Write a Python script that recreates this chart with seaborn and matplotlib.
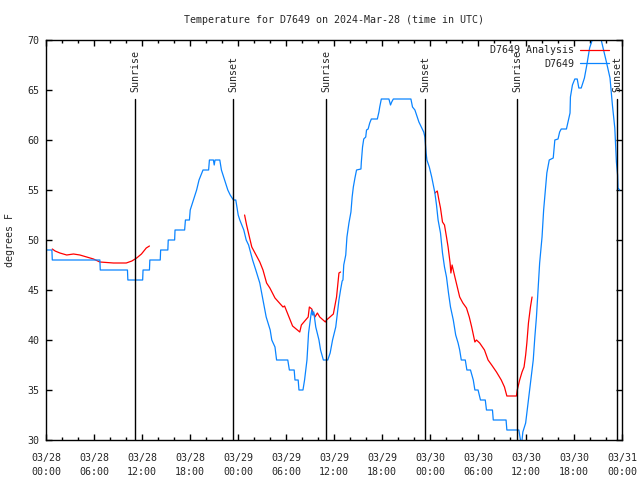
import matplotlib

matplotlib.use("Agg")
import matplotlib.dates as mdates
import matplotlib.pyplot as plt
import pandas as pd
import seaborn as sns


START = pd.Timestamp("2024-03-28 00:00")

# station readings, hours since 03/28 00:00 UTC
BLUE_HOURS = [
    0.0, 0.7, 0.75, 6.7, 6.75, 10.15, 10.2, 12.05, 12.1, 12.9, 12.95, 14.25, 14.3,
    15.2, 15.25, 16.05, 16.1, 17.3, 17.4, 17.9, 18.0, 18.4, 18.8, 19.1, 19.6, 20.3,
    20.4, 20.9, 21.0, 21.1, 21.7, 21.9, 22.3, 22.7, 23.0, 23.4, 23.7, 24.0, 24.2,
    24.7, 25.0, 25.3, 25.8, 26.2, 26.7, 27.1, 27.5, 28.0, 28.2, 28.6, 28.8, 30.2,
    30.4, 31.0, 31.1, 31.5, 31.6, 32.1, 32.3, 32.6, 32.8, 33.1, 33.2, 33.3, 33.45,
    33.7, 34.1, 34.3, 34.65, 35.2, 35.5, 35.8, 36.2, 36.6, 36.8, 37.0, 37.1, 37.2,
    37.45, 37.6, 37.85, 38.1, 38.25, 38.4, 38.6, 38.8, 39.35, 39.4, 39.55, 39.7,
    39.95, 40.05, 40.25, 40.45, 40.65, 41.4, 41.6, 41.7, 41.9, 42.85, 43.05, 43.2,
    43.4, 45.6, 45.8, 46.1, 46.4, 46.6, 46.9, 47.2, 47.35, 47.5, 47.6, 47.9, 48.2,
    48.4, 48.6, 48.8, 49.0, 49.3, 49.55, 49.8, 50.05, 50.3, 50.55, 50.9, 51.2, 51.5,
    51.7, 51.9, 52.4, 52.6, 53.05, 53.4, 53.6, 54.0, 54.3, 54.9, 55.05, 55.8, 55.9,
    57.5, 57.6, 59.1, 59.3, 59.45, 59.6, 59.95, 60.25, 60.55, 60.9, 61.1, 61.3,
    61.5, 61.7, 62.0, 62.2, 62.5, 62.6, 62.9, 63.4, 63.6, 64.0, 64.2, 64.4, 65.05,
    65.25, 65.5, 65.55, 65.8, 66.1, 66.4, 66.6, 66.9, 67.3, 67.6, 67.95, 68.4, 68.8,
    69.2, 69.4, 69.7, 70.05, 70.5, 70.8, 71.1, 71.3, 71.45, 71.5, 71.7,
]
BLUE_TEMPS = [
    49, 49, 48, 48, 47, 47, 46, 46, 47, 47, 48, 48, 49,
    49, 50, 50, 51, 51, 52, 52, 53, 54, 55, 56, 57, 57,
    58, 58, 57.5, 58, 58, 57, 56, 55, 54.5, 54, 54, 52.5, 52,
    51, 50, 49.5, 48, 47, 45.7, 44, 42.3, 41, 40, 39.3, 38, 38,
    37, 37, 36, 36, 35, 35, 36, 38, 40.7, 42.5, 43, 42.5, 42.8,
    41.3, 40, 39, 38, 38, 38.7, 40, 41.3, 44, 45, 45.9, 46, 47.5,
    48.5, 50.3, 51.7, 52.8, 54.3, 55.3, 56.2, 57, 57.1, 57.8, 59.3, 60.1,
    60.3, 61, 61.1, 61.7, 62.1, 62.1, 62.8, 63.3, 64.1, 64.1, 63.5, 63.8,
    64.1, 64.1, 63.3, 63, 62.3, 61.8, 61.3, 60.8, 60.3, 58.7, 58, 57.3, 56.3,
    55.5, 54.7, 53.5, 52, 50.7, 48.7, 47.3, 46.3, 44.7, 43.3, 42, 40.5, 39.7,
    39, 38, 38, 37, 37, 36, 35, 35, 34, 34, 33, 33, 32,
    32, 31, 31, 30, 29.6, 30.8, 31.7, 33.7, 35.7, 38, 40.3, 42.3,
    45, 47.7, 50.3, 53, 55.7, 56.7, 58, 58.2, 60, 60.1, 60.8, 61.1, 61.1,
    61.8, 62.7, 64.3, 65.5, 66.1, 66.1, 65.2, 65.2, 66.2, 67.5, 69.2, 70.3, 71,
    70.8, 70, 69, 67.8, 66.2, 63.5, 61.2, 57.8, 56.5, 55.2, 55,
]

# analysis, three separate runs
RED1_HOURS = [0.75, 1.1, 1.7, 2.55, 3.4, 4.2, 5.05, 5.9, 6.7, 8.4, 10.0, 10.7, 11.3, 11.9, 12.5, 12.9]
RED1_TEMPS = [49.1, 48.9, 48.7, 48.5, 48.6, 48.5, 48.3, 48.1, 47.8, 47.7, 47.7, 47.9, 48.2, 48.6, 49.2, 49.4]

RED2_HOURS = [24.8, 25.05, 25.4, 25.7, 26.1, 26.7, 27.1, 27.55, 27.96, 28.6, 29.6, 29.8, 30.0,
              30.8, 31.7, 31.9, 32.75, 32.9, 33.2, 33.6, 33.9, 34.2, 34.9, 35.05, 35.9, 36.3,
              36.6, 36.8]
RED2_TEMPS = [52.5, 51.5, 50.3, 49.3, 48.7, 47.8, 47, 45.7, 45.2, 44.2, 43.3, 43.4, 43,
              41.4, 40.8, 41.5, 42.3, 43.3, 43.1, 42.3, 42.7, 42.3, 41.8, 42, 42.6, 44.3,
              46.7, 46.8]

RED3_HOURS = [48.6, 48.9, 49.1, 49.3, 49.55, 49.8, 50.05, 50.25, 50.5, 50.6, 50.75, 51.1, 51.4,
              51.7, 52.1, 52.55, 52.9, 53.2, 53.6, 53.8, 54.2, 54.8, 55.25, 55.7, 56.3, 56.9,
              57.3, 57.6, 58.8, 58.9, 59.2, 59.5, 59.75, 59.95, 60.1, 60.3, 60.55, 60.75]
RED3_TEMPS = [54.7, 54.9, 54, 53.2, 51.8, 51.5, 50.3, 49.3, 47.7, 46.7, 47.5, 46.3, 45.3,
              44.3, 43.7, 43.2, 42.3, 41.3, 39.8, 40, 39.7, 39, 38, 37.5, 36.8, 36,
              35.3, 34.4, 34.4, 35, 36, 36.8, 37.3, 38.5, 39.7, 41.7, 43.3, 44.3]

SUN_HOURS = [11.1, 23.35, 35.0, 47.4, 58.9, 71.4]
SUN_LABELS = ["Sunrise", "Sunset", "Sunrise", "Sunset", "Sunrise", "Sunset"]


def to_frame(hours, temps):
    return pd.DataFrame({
        "time": START + pd.to_timedelta(hours, unit="h"),
        "temp": temps,
    })


def main():
    fig = plt.figure(figsize=(6.4, 4.8), dpi=100)
    ax = fig.add_axes([46.3 / 640, 40 / 480, 575.7 / 640, 400 / 480])

    red_segments = [(RED1_HOURS, RED1_TEMPS), (RED2_HOURS, RED2_TEMPS), (RED3_HOURS, RED3_TEMPS)]
    for i, (hh, tt) in enumerate(red_segments):
        sns.lineplot(data=to_frame(hh, tt), x="time", y="temp", color="#ff0000",
                     linewidth=0.9, label="D7649 Analysis" if i == 0 else None,
                     ax=ax, legend=False)
    sns.lineplot(data=to_frame(BLUE_HOURS, BLUE_TEMPS), x="time", y="temp",
                 color="#0a84ff", linewidth=0.9, label="D7649", ax=ax, legend=False)

    top = 64.1
    for h, lab in zip(SUN_HOURS, SUN_LABELS):
        t = START + pd.Timedelta(hours=h)
        ax.axvline(t, ymin=0, ymax=(top - 30) / 40, color="black", linewidth=1.0)
        ax.text(t, 64.8, lab, rotation=90, ha="center", va="bottom", fontsize=7.2)

    ax.set_xlim(START, START + pd.Timedelta(hours=72))
    ax.set_ylim(30, 70)
    ax.set_yticks(range(30, 71, 5))
    ax.xaxis.set_major_locator(mdates.HourLocator(byhour=[0, 6, 12, 18]))
    ax.xaxis.set_minor_locator(mdates.HourLocator(interval=2))
    ax.xaxis.set_major_formatter(mdates.DateFormatter("%m/%d\n%H:%M"))

    ax.tick_params(which="both", direction="in", top=True, right=True, labelsize=7.2,
                   width=1.0, color="black")
    ax.tick_params(which="major", length=4.5)
    ax.tick_params(which="minor", length=2.2)
    ax.tick_params(axis="x", which="major", pad=9)
    ax.tick_params(axis="y", which="major", pad=5)
    for lbl in ax.get_xticklabels():
        lbl.set_linespacing(1.55)
    for s in ax.spines.values():
        s.set_color("black")
        s.set_linewidth(1.0)

    ax.set_xlabel("")
    ax.set_ylabel("degrees F", fontsize=7.2)
    ax.yaxis.set_label_coords(-0.054, 0.5)
    ax.set_title("Temperature for D7649 on 2024-Mar-28 (time in UTC)", fontsize=7.2, pad=12)

    ax.legend(loc="upper right", bbox_to_anchor=(0.978, 0.987), frameon=False,
              markerfirst=False, fontsize=7.2, handlelength=2.9, handletextpad=0.6,
              labelspacing=0.35, borderpad=0, borderaxespad=0)

    fig.savefig("out.png", dpi=100)
    plt.close(fig)


if __name__ == "__main__":
    sns.set_style("ticks")
    plt.rcParams["font.family"] = ["DejaVu Sans Mono"]
    main()
